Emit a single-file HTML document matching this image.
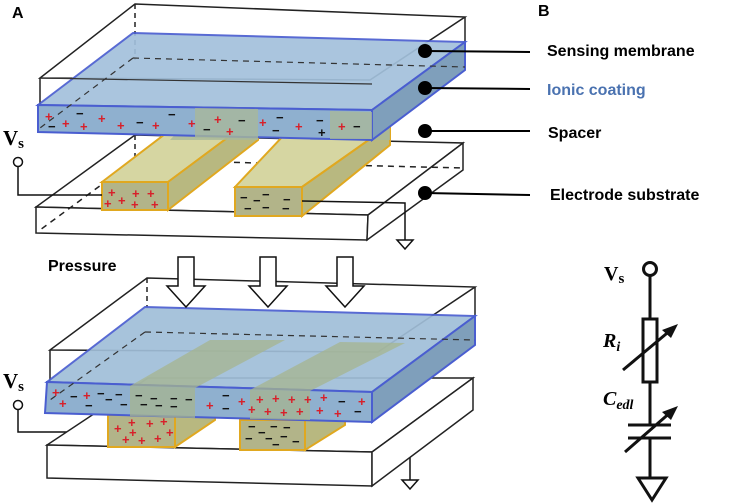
<!DOCTYPE html>
<html><head><meta charset="utf-8"><style>
body{margin:0;background:#fff}
svg{display:block}
.t{font-family:"Liberation Sans",sans-serif;font-weight:bold;font-size:16px}
.s{font-family:"Liberation Serif",serif;font-weight:bold}
.p{fill:#d8202a;font-family:"Liberation Sans",sans-serif;font-weight:bold;font-size:13px}
.m{fill:#111;font-family:"Liberation Sans",sans-serif;font-weight:bold;font-size:13px}
</style></head><body>
<svg width="736" height="504" viewBox="0 0 736 504" xmlns="http://www.w3.org/2000/svg">
<g fill="none" stroke="#222" stroke-width="1.5">
<!-- TOP: substrate -->
<polygon points="135,135 463,143 368,215 36,207" fill="#fff"/>
<polygon points="36,207 368,215 367,240 36,233" fill="#fff"/>
<polygon points="368,215 463,143 463,170 367,240" fill="#fff"/>
<line x1="135" y1="135" x2="135" y2="160" stroke-dasharray="5,4"/>
<line x1="135" y1="160" x2="463" y2="168" stroke-dasharray="6,5"/>
<line x1="135" y1="160" x2="40" y2="230" stroke-dasharray="6,5"/>
</g>
<!-- top electrodes -->
<g stroke="#e0a820" stroke-width="2">
<polygon points="102,182 190,115 258,115 168,182" fill="#d6d6a2"/>
<polygon points="168,182 258,115 258,140 168,210" fill="#b8b880"/>
<polygon points="102,182 168,182 168,210 102,210" fill="#b2b489"/>
<polygon points="235,187 300,118 390,125 302,187" fill="#d6d6a2"/>
<polygon points="302,187 390,125 390,145 302,216" fill="#b8b880"/>
<polygon points="235,187 302,187 302,216 235,216" fill="#b2b489"/>
</g>
<!-- spacer bits -->
<polygon points="195,113 258,113 258,140 170,140" fill="#a8b89a" opacity=".8"/>
<polygon points="330,113 390,115 390,140 310,140" fill="#a8b89a" opacity=".8"/>
<!-- top membrane outer box -->
<g fill="none" stroke="#222" stroke-width="1.5">
<polygon points="135,4 465,17 370,80 40,78"/>
<line x1="40" y1="78" x2="40" y2="105"/>
<line x1="465" y1="17" x2="465" y2="42"/>
<line x1="135" y1="4" x2="135" y2="60" stroke-dasharray="5,4"/>
</g>
<!-- top blue slab -->
<g stroke="#4a5ed0" stroke-width="2">
<polygon points="133,33 465,42 372,110 38,105" fill="#a3c1dc" opacity=".92"/>
<polygon points="372,110 465,42 465,70 372,140" fill="#7f9fbb"/>
<polygon points="38,105 372,110 372,140 38,132" fill="#8fb0cf"/>
</g>
<polygon points="195,108 258,109 258,139 195,138" fill="#a8b89a" opacity=".8"/>
<polygon points="330,111 372,112 372,139 330,139" fill="#a8b89a" opacity=".8"/>
<g fill="none" stroke="#333" stroke-width="1.2" stroke-dasharray="6,5">
<line x1="133" y1="58" x2="465" y2="67"/>
<line x1="133" y1="58" x2="40" y2="128"/>
</g>
<line x1="40" y1="78" x2="372" y2="84" stroke="#333" stroke-width="1.2"/>
<!-- charges top -->
<g>
<text class="p" x="45" y="121">+</text><text class="m" x="76" y="118">−</text><text class="p" x="98" y="123">+</text><text class="m" x="168" y="119">−</text>
<text class="m" x="48" y="131">−</text><text class="p" x="62" y="128">+</text><text class="p" x="80" y="131">+</text><text class="p" x="117" y="130">+</text><text class="m" x="136" y="127">−</text><text class="p" x="152" y="130">+</text>
<text class="p" x="188" y="128">+</text><text class="p" x="214" y="124">+</text><text class="m" x="238" y="125">−</text><text class="m" x="203" y="134">−</text><text class="p" x="226" y="136">+</text>
<text class="p" x="259" y="127">+</text><text class="m" x="276" y="122">−</text><text class="m" x="272" y="135">−</text><text class="p" x="295" y="131">+</text><text class="m" x="316" y="125">−</text><text class="m" x="318" y="137" font-size="12">+</text><text class="p" x="338" y="131">+</text><text class="m" x="353" y="131">−</text>
<text class="p" x="108" y="197">+</text><text class="p" x="132" y="198">+</text><text class="p" x="147" y="198">+</text><text class="p" x="104" y="208">+</text><text class="p" x="118" y="205">+</text><text class="p" x="131" y="209">+</text><text class="p" x="151" y="209">+</text>
<text class="m" x="240" y="202">−</text><text class="m" x="253" y="205">−</text><text class="m" x="262" y="199">−</text><text class="m" x="283" y="204">−</text><text class="m" x="244" y="213">−</text><text class="m" x="262" y="212">−</text><text class="m" x="282" y="213">−</text>
</g>
<!-- wires top -->
<g fill="none" stroke="#111" stroke-width="1.5">
<circle cx="18" cy="162" r="4.5" fill="#fff"/>
<polyline points="18,167 18,195 102,195"/>
<polyline points="302,201 405,203 405,240"/>
<polygon points="397,240 413,240 405,249" fill="#fff"/>
<circle cx="18" cy="405" r="4.5" fill="#fff"/>
<polyline points="18,410 18,432 108,432"/>
<polyline points="305,437 410,438 410,480"/>
<polygon points="402,480 418,480 410,489" fill="#fff"/>
</g>
<text class="s" x="3" y="145" font-size="21">V<tspan font-size="15" dy="3">s</tspan></text>
<text class="s" x="3" y="388" font-size="21">V<tspan font-size="15" dy="3">s</tspan></text>
<!-- label dots -->
<g fill="#000" stroke="#000" stroke-width="2">
<circle cx="425" cy="51" r="6"/><line x1="425" y1="51" x2="530" y2="52"/>
<circle cx="425" cy="88" r="6"/><line x1="425" y1="88" x2="530" y2="89"/>
<circle cx="425" cy="131" r="6"/><line x1="425" y1="131" x2="530" y2="131"/>
<circle cx="425" cy="193" r="6"/><line x1="425" y1="193" x2="530" y2="195"/>
</g>
<text class="t" x="547" y="56">Sensing membrane</text>
<text class="t" x="547" y="95" fill="#4a72b0">Ionic coating</text>
<text class="t" x="548" y="138">Spacer</text>
<text class="t" x="550" y="200">Electrode substrate</text>
<text class="t" x="12" y="18" font-size="13">A</text>
<text class="t" x="538" y="16" font-size="13">B</text>
<text class="t" x="48" y="271" font-size="17">Pressure</text>
<!-- BOTTOM substrate -->
<g fill="#fff" stroke="#222" stroke-width="1.5">
<polygon points="148,378 473,378 372,452 47,445"/>
<polygon points="47,445 372,452 372,486 47,478"/>
<polygon points="372,452 473,378 473,410 372,486"/>
</g>
<!-- bottom electrodes -->
<g stroke="#e0a820" stroke-width="2">
<polygon points="175,415 215,395 215,420 175,447" fill="#b8b880"/>
<polygon points="108,415 175,415 175,447 108,447" fill="#b2b489"/>
<polygon points="305,420 345,398 345,425 305,450" fill="#b8b880"/>
<polygon points="240,420 305,420 305,450 240,450" fill="#b2b489"/>
</g>
<!-- bottom outer box -->
<g fill="none" stroke="#222" stroke-width="1.5">
<polygon points="147,278 475,287 378,352 50,350"/>
<line x1="50" y1="350" x2="50" y2="382"/>
<line x1="475" y1="287" x2="475" y2="316"/>
<line x1="147" y1="278" x2="147" y2="307" stroke-dasharray="5,4"/>
</g>
<!-- bottom slab -->
<g stroke="#4a5ed0" stroke-width="2">
<polygon points="145,307 475,316 372,392 47,382" fill="#a0bed8" opacity=".92"/>
<polygon points="372,392 475,316 475,345 372,422" fill="#7f9fbb"/>
<polygon points="47,382 372,392 372,422 45,413" fill="#8fb0cf"/>
</g>
<g fill="#a6b58f" opacity=".75">
<polygon points="210,340 285,340 195,388 130,386"/>
<polygon points="340,342 405,343 310,391 250,390"/>
<polygon points="130,386 195,388 195,418 130,416"/>
<polygon points="250,390 310,391 310,420 250,419"/>
</g>
<g fill="none" stroke="#333" stroke-width="1.2" stroke-dasharray="6,5">
<line x1="145" y1="332" x2="475" y2="340"/>
<line x1="145" y1="332" x2="50" y2="400"/>
</g>
<g>
<text class="p" x="52" y="397">+</text><text class="p" x="83" y="400">+</text><text class="m" x="70" y="401">−</text><text class="m" x="97" y="398">−</text><text class="m" x="115" y="399">−</text>
<text class="p" x="59" y="408">+</text><text class="m" x="85" y="410">−</text><text class="m" x="105" y="404">−</text><text class="m" x="120" y="409">−</text><text class="m" x="135" y="400">−</text><text class="m" x="150" y="403">−</text><text class="m" x="170" y="403">−</text><text class="m" x="185" y="404">−</text>
<text class="m" x="140" y="409">−</text><text class="m" x="155" y="410">−</text><text class="m" x="170" y="411">−</text><text class="p" x="206" y="410">+</text><text class="m" x="222" y="400">−</text><text class="m" x="222" y="413">−</text><text class="p" x="238" y="406">+</text>
<text class="p" x="256" y="404">+</text><text class="p" x="272" y="403">+</text><text class="p" x="288" y="404">+</text><text class="p" x="304" y="404">+</text><text class="p" x="320" y="402">+</text><text class="m" x="338" y="406">−</text><text class="p" x="358" y="406">+</text>
<text class="p" x="248" y="414">+</text><text class="p" x="264" y="416">+</text><text class="p" x="280" y="417">+</text><text class="p" x="296" y="416">+</text><text class="p" x="316" y="415">+</text><text class="p" x="334" y="418">+</text><text class="m" x="354" y="416">−</text>
<text class="p" x="128" y="427">+</text><text class="p" x="146" y="428">+</text><text class="p" x="160" y="426">+</text><text class="p" x="114" y="433">+</text><text class="p" x="129" y="437">+</text><text class="p" x="166" y="437">+</text><text class="p" x="122" y="444">+</text><text class="p" x="138" y="445">+</text><text class="p" x="154" y="443">+</text>
<text class="m" x="248" y="431">−</text><text class="m" x="270" y="431">−</text><text class="m" x="283" y="432">−</text><text class="m" x="258" y="437">−</text><text class="m" x="245" y="443">−</text><text class="m" x="265" y="443">−</text><text class="m" x="280" y="441">−</text><text class="m" x="292" y="446">−</text><text class="m" x="272" y="449">−</text>
</g>
<!-- pressure arrows -->
<g fill="#fff" stroke="#111" stroke-width="1.5">
<polygon points="178,257 194,257 194,286 205,286 186,307 167,286 178,286"/>
<polygon points="260,257 276,257 276,286 287,286 268,307 249,286 260,286"/>
<polygon points="337,257 353,257 353,286 364,286 345,307 326,286 337,286"/>
</g>
<!-- circuit B -->
<g fill="none" stroke="#111" stroke-width="3">
<circle cx="650" cy="269" r="6.5"/>
<line x1="650" y1="276" x2="650" y2="319"/>
<rect x="643" y="319" width="14" height="63"/>
<line x1="650" y1="382" x2="650" y2="425"/>
<line x1="628" y1="425" x2="671" y2="425"/>
<line x1="628" y1="438" x2="671" y2="438"/>
<line x1="650" y1="438" x2="650" y2="478"/>
<polygon points="638,478 666,478 652,500"/>
<line x1="623" y1="370" x2="672" y2="329"/>
<line x1="625" y1="452" x2="672" y2="411"/>
</g>
<polygon points="678,324 662,330 671,338" fill="#111"/>
<polygon points="678,406 662,412 671,420" fill="#111"/>
<text class="s" x="604" y="280" font-size="20">V<tspan font-size="15" dy="3">s</tspan></text>
<text class="s" x="603" y="347" font-size="20" font-style="italic">R<tspan font-size="14" dy="4">i</tspan></text>
<text class="s" x="603" y="405" font-size="20" font-style="italic">C<tspan font-size="14" dy="4">edl</tspan></text>
</svg>
</body></html>
